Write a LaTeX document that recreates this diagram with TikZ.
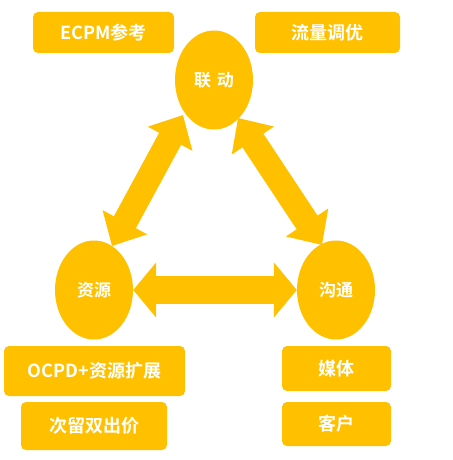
\documentclass[tikz,border=0pt]{standalone}
\usepackage{fontspec}
\newfontfamily\cjk{Noto Sans CJK SC Bold}
\usetikzlibrary{arrows.meta,shapes.geometric}
\definecolor{gold}{RGB}{255,192,0}
\tikzset{
  tagbox/.style={fill=gold,rounded corners=5pt,text=white,font=\cjk\fontsize{18}{21}\selectfont},
  hub/.style={ellipse,fill=gold,minimum width=78pt,minimum height=99pt,inner sep=0pt,text=white,font=\cjk\fontsize{17}{20}\selectfont},
  bigarrow/.style={gold,line width=28pt,{Triangle[length=23pt,width=54pt]}-{Triangle[length=23pt,width=54pt]}},
  slantarrow/.style={gold,line width=25pt,{Triangle[length=27pt,width=49pt]}-{Triangle[length=27pt,width=49pt]}}
}
\begin{document}
\begin{tikzpicture}[x=1pt,y=-1pt]
				\useasboundingbox (0,0) rectangle (452,460);
				\fill[white] (0,0) rectangle (452,460);
				\node[tagbox,minimum width=141pt,minimum height=41pt] (ecpm) at (103.5,32.5) {ECPM参考};
				\node[tagbox,minimum width=145pt,minimum height=41pt] (flow) at (327.5,32.5) {流量调优};
				\node[hub] (link) at (214,80) {联\,\,动};
				\node[hub] (res) at (94,290) {资源};
				\node[hub] (talk) at (336,290) {沟通};
				\node[tagbox,minimum width=181pt,minimum height=50pt] (ocpd) at (94.5,371) {OCPD+资源扩展};
				\node[tagbox,minimum width=146pt,minimum height=48pt] (bid) at (94,426) {次留双出价};
				\node[tagbox,minimum width=109pt,minimum height=45pt] (media) at (336.5,368.5) {媒体};
				\node[tagbox,minimum width=109pt,minimum height=44pt] (client) at (336.5,424) {客户};
				\coordinate (resTip) at (112,246);
				\coordinate (linkTipL) at (183,115);
				\coordinate (talkTip) at (322,245);
				\coordinate (linkTipR) at (238,118);
				\draw[bigarrow] (res.east)--(talk.west);
				\draw[slantarrow] (resTip)--(linkTipL);
				\draw[slantarrow] (talkTip)--(linkTipR);
			\end{tikzpicture}
\end{document}
